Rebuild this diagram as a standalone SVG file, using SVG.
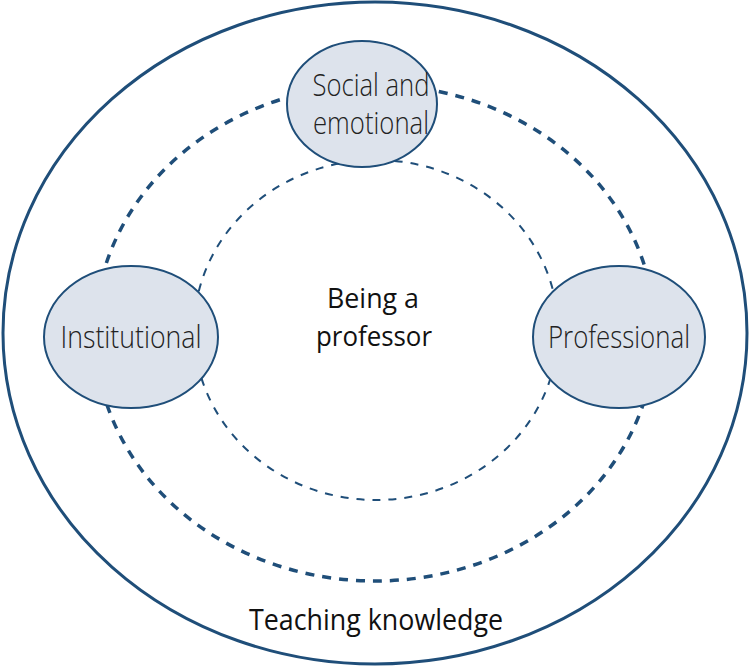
<svg xmlns="http://www.w3.org/2000/svg" width="750" height="667" viewBox="0 0 750 667">
<style>
.ring{fill:none;stroke:#1f4e79}
.node{fill:#dde3ec;stroke:#1f4e79;stroke-width:2}
.lbl{font-family:"Open Sans","Liberation Sans",sans-serif;font-weight:300;font-size:31px;fill:#222;text-anchor:middle}
.main{font-family:"Open Sans","Liberation Sans",sans-serif;font-weight:400;font-size:28px;fill:#111;text-anchor:middle}
</style>
<rect width="750" height="667" fill="#fff"/>
<g id="connectors">
<ellipse id="outer" class="ring" cx="375" cy="333" rx="372" ry="331" stroke-width="3"/>
<ellipse id="middle" class="ring" cx="375" cy="333" rx="280" ry="248" stroke-width="3.5" stroke-dasharray="9 8"/>
<ellipse id="inner" class="ring" cx="376" cy="330" rx="182" ry="170" stroke-width="2" stroke-dasharray="8 8"/>
</g>
<g id="social">
<ellipse class="node" cx="362" cy="104" rx="75" ry="63"/>
<text class="lbl" x="371" y="96" textLength="117" lengthAdjust="spacingAndGlyphs">Social and</text>
<text class="lbl" x="371" y="134" textLength="116" lengthAdjust="spacingAndGlyphs">emotional</text>
</g>
<g id="institutional">
<ellipse class="node" cx="131" cy="337" rx="87" ry="71"/>
<text class="lbl" x="131" y="348" textLength="141" lengthAdjust="spacingAndGlyphs">Institutional</text>
</g>
<g id="professional">
<ellipse class="node" cx="619" cy="337" rx="86" ry="71"/>
<text class="lbl" x="619" y="348" textLength="142" lengthAdjust="spacingAndGlyphs">Professional</text>
</g>
<g id="center">
<text class="main" x="373" y="308" textLength="92" lengthAdjust="spacingAndGlyphs">Being a</text>
<text class="main" x="374" y="346" textLength="116" lengthAdjust="spacingAndGlyphs">professor</text>
</g>
<g id="teaching">
<text class="main" x="376" y="630" style="font-size:30px" textLength="254" lengthAdjust="spacingAndGlyphs">Teaching knowledge</text>
</g>
</svg>
